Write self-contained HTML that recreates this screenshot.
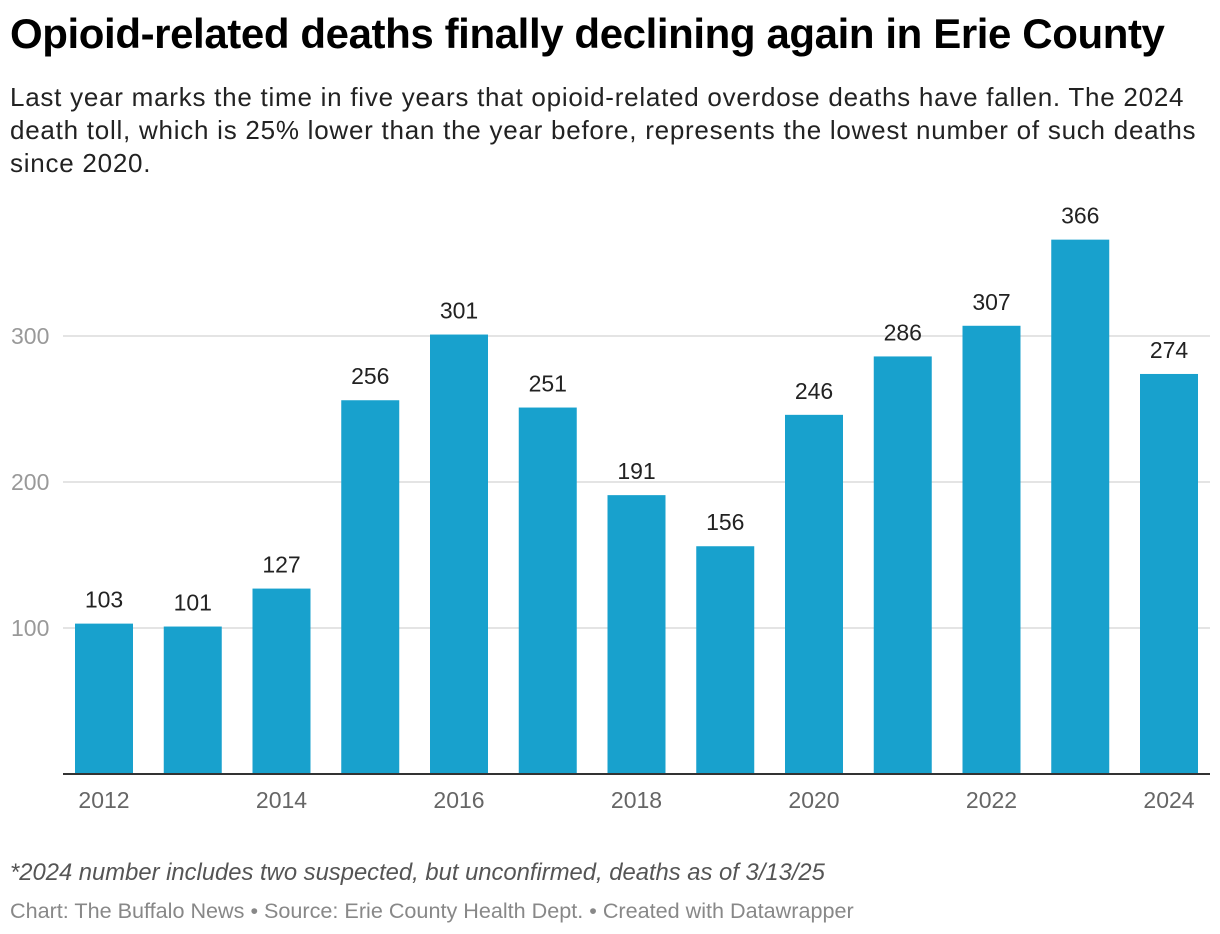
<!DOCTYPE html>
<html><head><meta charset="utf-8"><style>
body{margin:0;width:1220px;height:934px;background:#fff;font-family:"Liberation Sans",sans-serif;overflow:hidden}
h1{position:absolute;left:10px;top:10px;margin:0;font-size:42px;font-weight:bold;color:#000;letter-spacing:-0.4px;white-space:nowrap}
.sub{position:absolute;left:10px;top:81px;width:1210px;font-size:26px;line-height:33px;color:#222;white-space:nowrap;letter-spacing:0.75px}
.note{position:absolute;left:10px;top:859px;font-size:23.8px;font-style:italic;color:#555;white-space:nowrap}
.src{position:absolute;left:10px;top:898px;font-size:21.6px;color:#888;white-space:nowrap}
svg{position:absolute;left:0;top:0}
</style></head><body>
<h1>Opioid-related deaths finally declining again in Erie County</h1>
<div class="sub">Last year marks the time in five years that opioid-related overdose deaths have fallen. The 2024<br>death toll, which is 25% lower than the year before, represents the lowest number of such deaths<br>since 2020.</div>
<svg id="chart" width="1220" height="934"></svg>
<div class="note">*2024 number includes two suspected, but unconfirmed, deaths as of 3/13/25</div>
<div class="src">Chart: The Buffalo News • Source: Erie County Health Dept. • Created with Datawrapper</div>
<script>
const years=[2012,2013,2014,2015,2016,2017,2018,2019,2020,2021,2022,2023,2024];
const deaths=[103,101,127,256,301,251,191,156,246,286,307,366,274];
const yTicks=[100,200,300];
const xLabels=[2012,2014,2016,2018,2020,2022,2024];
const NS="http://www.w3.org/2000/svg",svg=document.getElementById('chart');
const y0=774,pxPer=1.46,x0=75,step=88.75,bw=58;
const y=v=>y0-v*pxPer, x=i=>x0+i*step;
function mk(t,a,txt){const e=document.createElementNS(NS,t);for(const k in a)e.setAttribute(k,a[k]);if(txt!==undefined)e.textContent=txt;svg.appendChild(e);return e;}
yTicks.forEach(v=>{
 const g=mk('line',{x1:63,x2:1210,y1:y(v),y2:y(v),stroke:'#e4e4e4','stroke-width':2});
 
 
 const t=mk('text',{x:11,y:y(v)+8,'font-size':23,fill:'#999','font-family':'Liberation Sans'},v);
 
 
});
years.forEach((yr,i)=>{
 const b=mk('rect',{x:x(i),y:y(deaths[i]),width:bw,height:deaths[i]*pxPer,fill:'#18a1cd'});
 
 
 const l=mk('text',{x:x(i)+bw/2,y:y(deaths[i])-16,'font-size':23,fill:'#222','text-anchor':'middle','font-family':'Liberation Sans'},deaths[i]);
 
 
});
const ax=mk('line',{x1:63,x2:1210,y1:y0,y2:y0,stroke:'#333','stroke-width':2});


xLabels.forEach(yr=>{
 const i=years.indexOf(yr);
 const t=mk('text',{x:x(i)+bw/2,y:808,'font-size':23,fill:'#666','text-anchor':'middle','font-family':'Liberation Sans'},yr);
 
 
});
</script>
</body></html>
